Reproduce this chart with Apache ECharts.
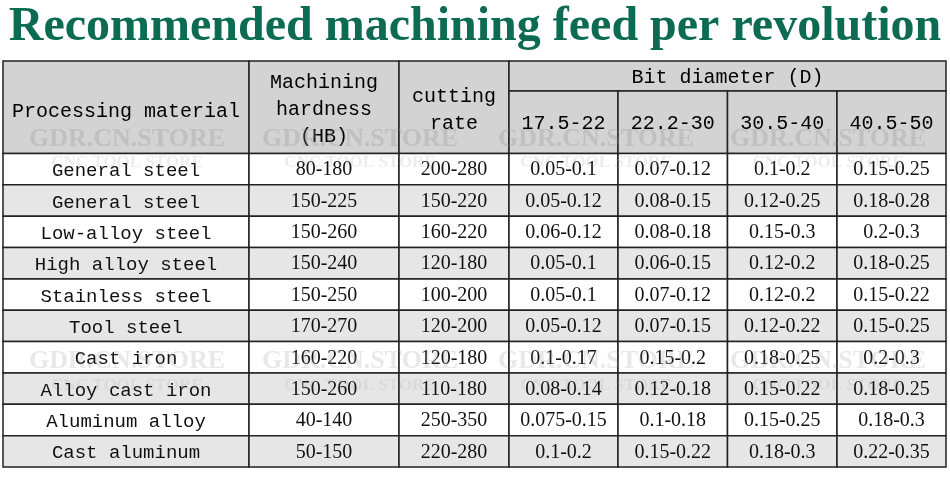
<!DOCTYPE html>
<html>
<head>
<meta charset="utf-8">
<script src="https://cdn.jsdelivr.net/npm/echarts@6/dist/echarts.min.js"></script>
<style>html,body{margin:0;padding:0;background:#fff;}#chart{width:950px;height:486px;}</style>
</head>
<body>
<div id="chart"></div>
<script>
// ---------- data ----------
var titleText = 'Recommended machining feed per revolution';
var headMaterial = 'Processing material';
var headHardness = 'Machining\nhardness\n(HB)';
var headRate = 'cutting\nrate';
var headDiameter = 'Bit diameter (D)';
var diameterRanges = ['17.5-22', '22.2-30', '30.5-40', '40.5-50'];
var materials = ['General steel', 'General steel', 'Low-alloy steel', 'High alloy steel', 'Stainless steel',
  'Tool steel', 'Cast iron', 'Alloy cast iron', 'Aluminum alloy', 'Cast aluminum'];
var hardness = ['80-180', '150-225', '150-260', '150-240', '150-250', '170-270', '160-220', '150-260', '40-140', '50-150'];
var cuttingRate = ['200-280', '150-220', '160-220', '120-180', '100-200', '120-200', '120-180', '110-180', '250-350', '220-280'];
var feedD17 = ['0.05-0.1', '0.05-0.12', '0.06-0.12', '0.05-0.1', '0.05-0.1', '0.05-0.12', '0.1-0.17', '0.08-0.14', '0.075-0.15', '0.1-0.2'];
var feedD22 = ['0.07-0.12', '0.08-0.15', '0.08-0.18', '0.06-0.15', '0.07-0.12', '0.07-0.15', '0.15-0.2', '0.12-0.18', '0.1-0.18', '0.15-0.22'];
var feedD30 = ['0.1-0.2', '0.12-0.25', '0.15-0.3', '0.12-0.2', '0.12-0.2', '0.12-0.22', '0.18-0.25', '0.15-0.22', '0.15-0.25', '0.18-0.3'];
var feedD40 = ['0.15-0.25', '0.18-0.28', '0.2-0.3', '0.18-0.25', '0.15-0.22', '0.15-0.25', '0.2-0.3', '0.18-0.25', '0.18-0.3', '0.22-0.35'];
var watermark1 = 'GDR.CN.STORE';
var watermark2 = 'CNC TOOL STORE';

// ---------- layout (not data) ----------
var colEdges = [0, 246, 396, 506, 615, 724.5, 834, 943];
var headTop = 0, headMid = 30, headBottom = 92.5, rowH = 31.35;
var TABLE_W = 943, TABLE_H = headBottom + rowH * materials.length;
var HEAD_BG = '#d3d3d3', ALT_BG = '#e6e6e6';
var HEAD_FONT = 'normal 20px "Liberation Mono", monospace';
var WORD_FONT = 'normal 19px "Liberation Mono", monospace';
var NUM_FONT = 'normal 20px "Liberation Serif", serif';

var cells = [];
function addCell(x0, x1, y0, y1, text, bg, font, dy, color) {
  cells.push({x0: x0, x1: x1, y0: y0, y1: y1, text: text, bg: bg, font: font, dy: dy || 0, color: color || '#111'});
}
addCell(colEdges[0], colEdges[1], headTop, headBottom, headMaterial, HEAD_BG, HEAD_FONT, 4, '#000');
addCell(colEdges[1], colEdges[2], headTop, headBottom, headHardness, HEAD_BG, HEAD_FONT, 2, '#000');
addCell(colEdges[2], colEdges[3], headTop, headBottom, headRate, HEAD_BG, HEAD_FONT, 3, '#000');
addCell(colEdges[3], colEdges[7], headTop, headMid, headDiameter, HEAD_BG, HEAD_FONT, 2, '#000');
diameterRanges.forEach(function (d, i) {
  addCell(colEdges[3 + i], colEdges[4 + i], headMid, headBottom, d, HEAD_BG, HEAD_FONT, 1, '#000');
});
var feedCols = [feedD17, feedD22, feedD30, feedD40];
materials.forEach(function (m, r) {
  var y0 = headBottom + r * rowH, y1 = y0 + rowH;
  var bg = r % 2 === 1 ? ALT_BG : '#ffffff';
  addCell(colEdges[0], colEdges[1], y0, y1, m, bg, WORD_FONT, 2);
  addCell(colEdges[1], colEdges[2], y0, y1, hardness[r], bg, NUM_FONT, 1);
  addCell(colEdges[2], colEdges[3], y0, y1, cuttingRate[r], bg, NUM_FONT, 1);
  feedCols.forEach(function (col, c) {
    addCell(colEdges[3 + c], colEdges[4 + c], y0, y1, col[r], bg, NUM_FONT, 1);
  });
});

var chart = echarts.init(document.getElementById('chart'));

function wmText(x, y, t, size, alpha) {
  return {
    type: 'text', x: x, y: y, z: 100, silent: true,
    style: {text: t, x: 0, y: 0, align: 'center', verticalAlign: 'middle',
      font: 'bold ' + size + 'px "Liberation Serif", serif', fill: 'rgba(150,150,150,' + alpha + ')'}
  };
}
var wmXs = [127, 360, 596, 828];
var graphics = [];
wmXs.forEach(function (x) {
  graphics.push(wmText(x, 139, watermark1, 26, 0.3));
  graphics.push(wmText(x, 163, watermark2, 17, 0.18));
  graphics.push(wmText(x, 361, watermark1, 26, 0.22));
  graphics.push(wmText(x, 386, watermark2, 17, 0.15));
});

chart.setOption({
  animation: false,
  backgroundColor: '#ffffff',
  title: {
    text: titleText, left: 'center', top: -1,
    textStyle: {fontFamily: '"Liberation Serif", serif', fontWeight: 'bold', fontSize: 48, color: '#0d6b53'}
  },
  grid: {left: 3, top: 61, width: TABLE_W, height: TABLE_H, show: false},
  xAxis: {type: 'value', min: 0, max: TABLE_W, show: false},
  yAxis: {type: 'value', min: 0, max: TABLE_H, inverse: true, show: false},
  graphic: graphics,
  series: [{
    type: 'custom',
    coordinateSystem: 'cartesian2d',
    data: cells.map(function (c) { return [c.x0, c.y0, c.x1, c.y1]; }),
    encode: {x: [0, 2], y: [1, 3]},
    renderItem: function (params, api) {
      var c = cells[params.dataIndex];
      var p0 = api.coord([api.value(0), api.value(1)]);
      var p1 = api.coord([api.value(2), api.value(3)]);
      return {
        type: 'group',
        children: [{
          type: 'rect',
          shape: {x: p0[0], y: p0[1], width: p1[0] - p0[0], height: p1[1] - p0[1]},
          style: {fill: c.bg, stroke: '#222', lineWidth: 1.5}
        }, {
          type: 'text',
          style: {
            text: c.text, x: (p0[0] + p1[0]) / 2, y: (p0[1] + p1[1]) / 2 + c.dy,
            align: 'center', verticalAlign: 'middle', font: c.font, fill: c.color, lineHeight: 27
          }
        }]
      };
    }
  }]
});
</script>
</body>
</html>
